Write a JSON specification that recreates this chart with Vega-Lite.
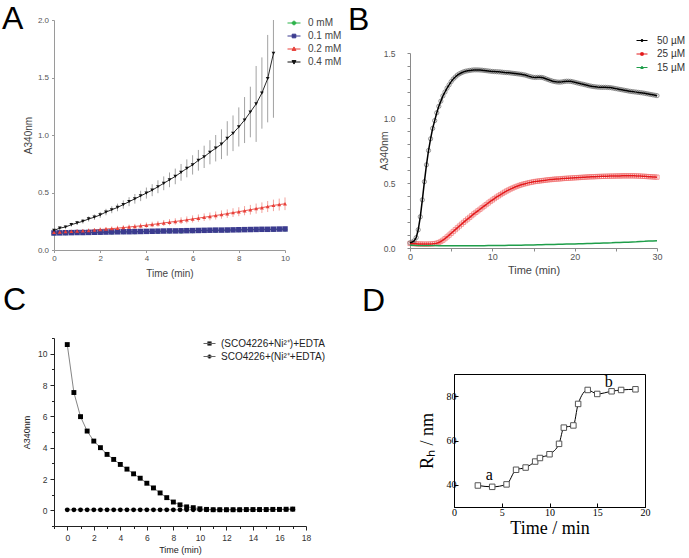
{
"$schema":"https://vega.github.io/schema/vega-lite/v6.json",
"background":"white",
"padding":{"left":2,"top":2,"right":0,"bottom":0},
"config":{
 "view":{"stroke":null},
 "font":"Liberation Sans",
 "axis":{"grid":false,"titleFontWeight":"normal","labelFont":"Liberation Sans","titleFont":"Liberation Sans","labelFlush":false,"labelOverlap":false},
 "legend":{"padding":0,"labelFont":"Liberation Sans"},
 "title":{"font":"Liberation Sans","fontWeight":"normal","anchor":"start","frame":"group","baseline":"top","color":"#000","fontSize":32}
},
"datasets":{
"a":[
{"s":"0 mM","t":0,"y":0.145,"e":0.01},{"s":"0 mM","t":0.5,"y":0.147,"e":0.01},{"s":"0 mM","t":1,"y":0.149,"e":0.01},{"s":"0 mM","t":1.5,"y":0.15,"e":0.01},{"s":"0 mM","t":2,"y":0.152,"e":0.01},{"s":"0 mM","t":2.5,"y":0.154,"e":0.01},{"s":"0 mM","t":3,"y":0.156,"e":0.01},{"s":"0 mM","t":3.5,"y":0.157,"e":0.01},{"s":"0 mM","t":4,"y":0.159,"e":0.01},{"s":"0 mM","t":4.5,"y":0.161,"e":0.01},{"s":"0 mM","t":5,"y":0.163,"e":0.01},{"s":"0 mM","t":5.5,"y":0.164,"e":0.01},{"s":"0 mM","t":6,"y":0.166,"e":0.01},{"s":"0 mM","t":6.5,"y":0.168,"e":0.01},{"s":"0 mM","t":7,"y":0.17,"e":0.01},{"s":"0 mM","t":7.5,"y":0.171,"e":0.01},{"s":"0 mM","t":8,"y":0.173,"e":0.01},{"s":"0 mM","t":8.5,"y":0.175,"e":0.01},{"s":"0 mM","t":9,"y":0.177,"e":0.01},{"s":"0 mM","t":9.5,"y":0.178,"e":0.01},{"s":"0 mM","t":10,"y":0.18,"e":0.01},
{"s":"0.1 mM","t":0,"y":0.148,"e":0.012},{"s":"0.1 mM","t":0.25,"y":0.149,"e":0.012},{"s":"0.1 mM","t":0.5,"y":0.15,"e":0.012},{"s":"0.1 mM","t":0.75,"y":0.151,"e":0.012},{"s":"0.1 mM","t":1,"y":0.152,"e":0.012},{"s":"0.1 mM","t":1.25,"y":0.152,"e":0.012},{"s":"0.1 mM","t":1.5,"y":0.153,"e":0.012},{"s":"0.1 mM","t":1.75,"y":0.154,"e":0.012},{"s":"0.1 mM","t":2,"y":0.155,"e":0.012},{"s":"0.1 mM","t":2.25,"y":0.156,"e":0.012},{"s":"0.1 mM","t":2.5,"y":0.157,"e":0.012},{"s":"0.1 mM","t":2.75,"y":0.158,"e":0.012},{"s":"0.1 mM","t":3,"y":0.159,"e":0.012},{"s":"0.1 mM","t":3.25,"y":0.159,"e":0.012},{"s":"0.1 mM","t":3.5,"y":0.16,"e":0.012},{"s":"0.1 mM","t":3.75,"y":0.161,"e":0.012},{"s":"0.1 mM","t":4,"y":0.162,"e":0.012},{"s":"0.1 mM","t":4.25,"y":0.163,"e":0.012},{"s":"0.1 mM","t":4.5,"y":0.164,"e":0.012},{"s":"0.1 mM","t":4.75,"y":0.165,"e":0.012},{"s":"0.1 mM","t":5,"y":0.166,"e":0.012},{"s":"0.1 mM","t":5.25,"y":0.166,"e":0.012},{"s":"0.1 mM","t":5.5,"y":0.167,"e":0.012},{"s":"0.1 mM","t":5.75,"y":0.168,"e":0.012},{"s":"0.1 mM","t":6,"y":0.169,"e":0.012},{"s":"0.1 mM","t":6.25,"y":0.17,"e":0.012},{"s":"0.1 mM","t":6.5,"y":0.171,"e":0.012},{"s":"0.1 mM","t":6.75,"y":0.172,"e":0.012},{"s":"0.1 mM","t":7,"y":0.173,"e":0.012},{"s":"0.1 mM","t":7.25,"y":0.173,"e":0.012},{"s":"0.1 mM","t":7.5,"y":0.174,"e":0.012},{"s":"0.1 mM","t":7.75,"y":0.175,"e":0.012},{"s":"0.1 mM","t":8,"y":0.176,"e":0.012},{"s":"0.1 mM","t":8.25,"y":0.177,"e":0.012},{"s":"0.1 mM","t":8.5,"y":0.178,"e":0.012},{"s":"0.1 mM","t":8.75,"y":0.179,"e":0.012},{"s":"0.1 mM","t":9,"y":0.18,"e":0.012},{"s":"0.1 mM","t":9.25,"y":0.18,"e":0.012},{"s":"0.1 mM","t":9.5,"y":0.181,"e":0.012},{"s":"0.1 mM","t":9.75,"y":0.182,"e":0.012},{"s":"0.1 mM","t":10,"y":0.183,"e":0.012},
{"s":"0.2 mM","t":0,"y":0.155,"e":0.015},{"s":"0.2 mM","t":0.25,"y":0.157,"e":0.015},{"s":"0.2 mM","t":0.5,"y":0.16,"e":0.015},{"s":"0.2 mM","t":0.75,"y":0.162,"e":0.015},{"s":"0.2 mM","t":1,"y":0.165,"e":0.016},{"s":"0.2 mM","t":1.25,"y":0.167,"e":0.016},{"s":"0.2 mM","t":1.5,"y":0.17,"e":0.017},{"s":"0.2 mM","t":1.75,"y":0.174,"e":0.017},{"s":"0.2 mM","t":2,"y":0.178,"e":0.018},{"s":"0.2 mM","t":2.25,"y":0.182,"e":0.018},{"s":"0.2 mM","t":2.5,"y":0.186,"e":0.019},{"s":"0.2 mM","t":2.75,"y":0.19,"e":0.02},{"s":"0.2 mM","t":3,"y":0.195,"e":0.02},{"s":"0.2 mM","t":3.25,"y":0.2,"e":0.021},{"s":"0.2 mM","t":3.5,"y":0.205,"e":0.022},{"s":"0.2 mM","t":3.75,"y":0.21,"e":0.022},{"s":"0.2 mM","t":4,"y":0.216,"e":0.023},{"s":"0.2 mM","t":4.25,"y":0.222,"e":0.024},{"s":"0.2 mM","t":4.5,"y":0.228,"e":0.025},{"s":"0.2 mM","t":4.75,"y":0.235,"e":0.026},{"s":"0.2 mM","t":5,"y":0.242,"e":0.027},{"s":"0.2 mM","t":5.25,"y":0.248,"e":0.028},{"s":"0.2 mM","t":5.5,"y":0.255,"e":0.029},{"s":"0.2 mM","t":5.75,"y":0.262,"e":0.03},{"s":"0.2 mM","t":6,"y":0.27,"e":0.031},{"s":"0.2 mM","t":6.25,"y":0.277,"e":0.032},{"s":"0.2 mM","t":6.5,"y":0.285,"e":0.033},{"s":"0.2 mM","t":6.75,"y":0.292,"e":0.034},{"s":"0.2 mM","t":7,"y":0.3,"e":0.035},{"s":"0.2 mM","t":7.25,"y":0.308,"e":0.036},{"s":"0.2 mM","t":7.5,"y":0.316,"e":0.037},{"s":"0.2 mM","t":7.75,"y":0.325,"e":0.038},{"s":"0.2 mM","t":8,"y":0.333,"e":0.039},{"s":"0.2 mM","t":8.25,"y":0.342,"e":0.04},{"s":"0.2 mM","t":8.5,"y":0.35,"e":0.042},{"s":"0.2 mM","t":8.75,"y":0.36,"e":0.044},{"s":"0.2 mM","t":9,"y":0.368,"e":0.046},{"s":"0.2 mM","t":9.25,"y":0.378,"e":0.048},{"s":"0.2 mM","t":9.5,"y":0.388,"e":0.05},{"s":"0.2 mM","t":9.75,"y":0.395,"e":0.052},{"s":"0.2 mM","t":10,"y":0.402,"e":0.055},
{"s":"0.4 mM","t":0,"y":0.17,"e":0.01},{"s":"0.4 mM","t":0.25,"y":0.19,"e":0.012},{"s":"0.4 mM","t":0.5,"y":0.2,"e":0.014},{"s":"0.4 mM","t":0.75,"y":0.22,"e":0.016},{"s":"0.4 mM","t":1,"y":0.235,"e":0.018},{"s":"0.4 mM","t":1.25,"y":0.25,"e":0.02},{"s":"0.4 mM","t":1.5,"y":0.27,"e":0.022},{"s":"0.4 mM","t":1.75,"y":0.285,"e":0.024},{"s":"0.4 mM","t":2,"y":0.305,"e":0.026},{"s":"0.4 mM","t":2.25,"y":0.33,"e":0.028},{"s":"0.4 mM","t":2.5,"y":0.35,"e":0.03},{"s":"0.4 mM","t":2.75,"y":0.37,"e":0.033},{"s":"0.4 mM","t":3,"y":0.395,"e":0.036},{"s":"0.4 mM","t":3.25,"y":0.42,"e":0.039},{"s":"0.4 mM","t":3.5,"y":0.445,"e":0.042},{"s":"0.4 mM","t":3.75,"y":0.47,"e":0.045},{"s":"0.4 mM","t":4,"y":0.495,"e":0.048},{"s":"0.4 mM","t":4.25,"y":0.52,"e":0.052},{"s":"0.4 mM","t":4.5,"y":0.55,"e":0.056},{"s":"0.4 mM","t":4.75,"y":0.58,"e":0.06},{"s":"0.4 mM","t":5,"y":0.61,"e":0.064},{"s":"0.4 mM","t":5.25,"y":0.64,"e":0.068},{"s":"0.4 mM","t":5.5,"y":0.675,"e":0.073},{"s":"0.4 mM","t":5.75,"y":0.71,"e":0.078},{"s":"0.4 mM","t":6,"y":0.74,"e":0.084},{"s":"0.4 mM","t":6.25,"y":0.78,"e":0.09},{"s":"0.4 mM","t":6.5,"y":0.81,"e":0.097},{"s":"0.4 mM","t":6.75,"y":0.85,"e":0.105},{"s":"0.4 mM","t":7,"y":0.885,"e":0.115},{"s":"0.4 mM","t":7.25,"y":0.92,"e":0.13},{"s":"0.4 mM","t":7.5,"y":0.97,"e":0.15},{"s":"0.4 mM","t":7.75,"y":1.015,"e":0.155},{"s":"0.4 mM","t":8,"y":1.07,"e":0.17},{"s":"0.4 mM","t":8.25,"y":1.13,"e":0.2},{"s":"0.4 mM","t":8.5,"y":1.2,"e":0.22},{"s":"0.4 mM","t":8.75,"y":1.27,"e":0.33},{"s":"0.4 mM","t":9,"y":1.365,"e":0.31},{"s":"0.4 mM","t":9.25,"y":1.49,"e":0.38},{"s":"0.4 mM","t":9.5,"y":1.71,"e":0.56}
],
"b":[
{"s":"15 µM","t":0,"y":0.022},{"s":"15 µM","t":0.5,"y":0.021},{"s":"15 µM","t":1,"y":0.02},{"s":"15 µM","t":1.5,"y":0.02},{"s":"15 µM","t":2,"y":0.019},{"s":"15 µM","t":2.5,"y":0.019},{"s":"15 µM","t":3,"y":0.019},{"s":"15 µM","t":3.5,"y":0.018},{"s":"15 µM","t":4,"y":0.018},{"s":"15 µM","t":4.5,"y":0.018},{"s":"15 µM","t":5,"y":0.018},{"s":"15 µM","t":5.5,"y":0.018},{"s":"15 µM","t":6,"y":0.018},{"s":"15 µM","t":6.5,"y":0.018},{"s":"15 µM","t":7,"y":0.018},{"s":"15 µM","t":7.5,"y":0.018},{"s":"15 µM","t":8,"y":0.018},{"s":"15 µM","t":8.5,"y":0.018},{"s":"15 µM","t":9,"y":0.018},{"s":"15 µM","t":9.5,"y":0.019},{"s":"15 µM","t":10,"y":0.019},{"s":"15 µM","t":10.5,"y":0.019},{"s":"15 µM","t":11,"y":0.02},{"s":"15 µM","t":11.5,"y":0.02},{"s":"15 µM","t":12,"y":0.021},{"s":"15 µM","t":12.5,"y":0.021},{"s":"15 µM","t":13,"y":0.022},{"s":"15 µM","t":13.5,"y":0.022},{"s":"15 µM","t":14,"y":0.023},{"s":"15 µM","t":14.5,"y":0.023},{"s":"15 µM","t":15,"y":0.024},{"s":"15 µM","t":15.5,"y":0.025},{"s":"15 µM","t":16,"y":0.025},{"s":"15 µM","t":16.5,"y":0.026},{"s":"15 µM","t":17,"y":0.027},{"s":"15 µM","t":17.5,"y":0.027},{"s":"15 µM","t":18,"y":0.028},{"s":"15 µM","t":18.5,"y":0.029},{"s":"15 µM","t":19,"y":0.03},{"s":"15 µM","t":19.5,"y":0.03},{"s":"15 µM","t":20,"y":0.031},{"s":"15 µM","t":20.5,"y":0.032},{"s":"15 µM","t":21,"y":0.033},{"s":"15 µM","t":21.5,"y":0.034},{"s":"15 µM","t":22,"y":0.035},{"s":"15 µM","t":22.5,"y":0.036},{"s":"15 µM","t":23,"y":0.037},{"s":"15 µM","t":23.5,"y":0.038},{"s":"15 µM","t":24,"y":0.039},{"s":"15 µM","t":24.5,"y":0.04},{"s":"15 µM","t":25,"y":0.042},{"s":"15 µM","t":25.5,"y":0.043},{"s":"15 µM","t":26,"y":0.044},{"s":"15 µM","t":26.5,"y":0.045},{"s":"15 µM","t":27,"y":0.047},{"s":"15 µM","t":27.5,"y":0.048},{"s":"15 µM","t":28,"y":0.05},{"s":"15 µM","t":28.5,"y":0.051},{"s":"15 µM","t":29,"y":0.053},{"s":"15 µM","t":29.5,"y":0.054},{"s":"15 µM","t":30,"y":0.056},
{"s":"25 µM","t":0,"y":0.035},{"s":"25 µM","t":0.25,"y":0.034},{"s":"25 µM","t":0.5,"y":0.033},{"s":"25 µM","t":0.75,"y":0.032},{"s":"25 µM","t":1,"y":0.031},{"s":"25 µM","t":1.25,"y":0.031},{"s":"25 µM","t":1.5,"y":0.03},{"s":"25 µM","t":1.75,"y":0.03},{"s":"25 µM","t":2,"y":0.03},{"s":"25 µM","t":2.25,"y":0.03},{"s":"25 µM","t":2.5,"y":0.031},{"s":"25 µM","t":2.75,"y":0.032},{"s":"25 µM","t":3,"y":0.034},{"s":"25 µM","t":3.25,"y":0.037},{"s":"25 µM","t":3.5,"y":0.042},{"s":"25 µM","t":3.75,"y":0.05},{"s":"25 µM","t":4,"y":0.06},{"s":"25 µM","t":4.25,"y":0.072},{"s":"25 µM","t":4.5,"y":0.085},{"s":"25 µM","t":4.75,"y":0.099},{"s":"25 µM","t":5,"y":0.113},{"s":"25 µM","t":5.25,"y":0.127},{"s":"25 µM","t":5.5,"y":0.141},{"s":"25 µM","t":5.75,"y":0.155},{"s":"25 µM","t":6,"y":0.169},{"s":"25 µM","t":6.25,"y":0.183},{"s":"25 µM","t":6.5,"y":0.197},{"s":"25 µM","t":6.75,"y":0.21},{"s":"25 µM","t":7,"y":0.223},{"s":"25 µM","t":7.25,"y":0.236},{"s":"25 µM","t":7.5,"y":0.249},{"s":"25 µM","t":7.75,"y":0.262},{"s":"25 µM","t":8,"y":0.274},{"s":"25 µM","t":8.25,"y":0.286},{"s":"25 µM","t":8.5,"y":0.298},{"s":"25 µM","t":8.75,"y":0.31},{"s":"25 µM","t":9,"y":0.322},{"s":"25 µM","t":9.25,"y":0.334},{"s":"25 µM","t":9.5,"y":0.346},{"s":"25 µM","t":9.75,"y":0.358},{"s":"25 µM","t":10,"y":0.369},{"s":"25 µM","t":10.25,"y":0.38},{"s":"25 µM","t":10.5,"y":0.391},{"s":"25 µM","t":10.75,"y":0.401},{"s":"25 µM","t":11,"y":0.411},{"s":"25 µM","t":11.25,"y":0.421},{"s":"25 µM","t":11.5,"y":0.43},{"s":"25 µM","t":11.75,"y":0.439},{"s":"25 µM","t":12,"y":0.447},{"s":"25 µM","t":12.25,"y":0.455},{"s":"25 µM","t":12.5,"y":0.462},{"s":"25 µM","t":12.75,"y":0.469},{"s":"25 µM","t":13,"y":0.475},{"s":"25 µM","t":13.25,"y":0.481},{"s":"25 µM","t":13.5,"y":0.486},{"s":"25 µM","t":13.75,"y":0.491},{"s":"25 µM","t":14,"y":0.495},{"s":"25 µM","t":14.25,"y":0.499},{"s":"25 µM","t":14.5,"y":0.503},{"s":"25 µM","t":14.75,"y":0.506},{"s":"25 µM","t":15,"y":0.509},{"s":"25 µM","t":15.25,"y":0.512},{"s":"25 µM","t":15.5,"y":0.514},{"s":"25 µM","t":15.75,"y":0.516},{"s":"25 µM","t":16,"y":0.518},{"s":"25 µM","t":16.25,"y":0.52},{"s":"25 µM","t":16.5,"y":0.522},{"s":"25 µM","t":16.75,"y":0.524},{"s":"25 µM","t":17,"y":0.526},{"s":"25 µM","t":17.25,"y":0.527},{"s":"25 µM","t":17.5,"y":0.529},{"s":"25 µM","t":17.75,"y":0.53},{"s":"25 µM","t":18,"y":0.531},{"s":"25 µM","t":18.25,"y":0.532},{"s":"25 µM","t":18.5,"y":0.534},{"s":"25 µM","t":18.75,"y":0.535},{"s":"25 µM","t":19,"y":0.536},{"s":"25 µM","t":19.25,"y":0.537},{"s":"25 µM","t":19.5,"y":0.538},{"s":"25 µM","t":19.75,"y":0.539},{"s":"25 µM","t":20,"y":0.54},{"s":"25 µM","t":20.25,"y":0.541},{"s":"25 µM","t":20.5,"y":0.542},{"s":"25 µM","t":20.75,"y":0.543},{"s":"25 µM","t":21,"y":0.544},{"s":"25 µM","t":21.25,"y":0.545},{"s":"25 µM","t":21.5,"y":0.546},{"s":"25 µM","t":21.75,"y":0.547},{"s":"25 µM","t":22,"y":0.548},{"s":"25 µM","t":22.25,"y":0.548},{"s":"25 µM","t":22.5,"y":0.549},{"s":"25 µM","t":22.75,"y":0.55},{"s":"25 µM","t":23,"y":0.55},{"s":"25 µM","t":23.25,"y":0.551},{"s":"25 µM","t":23.5,"y":0.551},{"s":"25 µM","t":23.75,"y":0.552},{"s":"25 µM","t":24,"y":0.552},{"s":"25 µM","t":24.25,"y":0.553},{"s":"25 µM","t":24.5,"y":0.553},{"s":"25 µM","t":24.75,"y":0.553},{"s":"25 µM","t":25,"y":0.554},{"s":"25 µM","t":25.25,"y":0.554},{"s":"25 µM","t":25.5,"y":0.554},{"s":"25 µM","t":25.75,"y":0.555},{"s":"25 µM","t":26,"y":0.555},{"s":"25 µM","t":26.25,"y":0.555},{"s":"25 µM","t":26.5,"y":0.555},{"s":"25 µM","t":26.75,"y":0.555},{"s":"25 µM","t":27,"y":0.555},{"s":"25 µM","t":27.25,"y":0.555},{"s":"25 µM","t":27.5,"y":0.554},{"s":"25 µM","t":27.75,"y":0.554},{"s":"25 µM","t":28,"y":0.553},{"s":"25 µM","t":28.25,"y":0.552},{"s":"25 µM","t":28.5,"y":0.551},{"s":"25 µM","t":28.75,"y":0.55},{"s":"25 µM","t":29,"y":0.549},{"s":"25 µM","t":29.25,"y":0.548},{"s":"25 µM","t":29.5,"y":0.547},{"s":"25 µM","t":29.75,"y":0.546},{"s":"25 µM","t":30,"y":0.545},
{"s":"50 µM","t":0,"y":0.04},{"s":"50 µM","t":0.25,"y":0.045},{"s":"50 µM","t":0.5,"y":0.055},{"s":"50 µM","t":0.75,"y":0.08},{"s":"50 µM","t":1,"y":0.14},{"s":"50 µM","t":1.25,"y":0.24},{"s":"50 µM","t":1.5,"y":0.37},{"s":"50 µM","t":1.75,"y":0.51},{"s":"50 µM","t":2,"y":0.64},{"s":"50 µM","t":2.25,"y":0.75},{"s":"50 µM","t":2.5,"y":0.84},{"s":"50 µM","t":2.75,"y":0.92},{"s":"50 µM","t":3,"y":0.98},{"s":"50 µM","t":3.25,"y":1.04},{"s":"50 µM","t":3.5,"y":1.09},{"s":"50 µM","t":3.75,"y":1.13},{"s":"50 µM","t":4,"y":1.17},{"s":"50 µM","t":4.25,"y":1.2},{"s":"50 µM","t":4.5,"y":1.23},{"s":"50 µM","t":4.75,"y":1.255},{"s":"50 µM","t":5,"y":1.28},{"s":"50 µM","t":5.25,"y":1.3},{"s":"50 µM","t":5.5,"y":1.315},{"s":"50 µM","t":5.75,"y":1.33},{"s":"50 µM","t":6,"y":1.34},{"s":"50 µM","t":6.25,"y":1.348},{"s":"50 µM","t":6.5,"y":1.355},{"s":"50 µM","t":6.75,"y":1.36},{"s":"50 µM","t":7,"y":1.363},{"s":"50 µM","t":7.25,"y":1.366},{"s":"50 µM","t":7.5,"y":1.368},{"s":"50 µM","t":7.75,"y":1.37},{"s":"50 µM","t":8,"y":1.37},{"s":"50 µM","t":8.25,"y":1.37},{"s":"50 µM","t":8.5,"y":1.369},{"s":"50 µM","t":8.75,"y":1.368},{"s":"50 µM","t":9,"y":1.366},{"s":"50 µM","t":9.25,"y":1.364},{"s":"50 µM","t":9.5,"y":1.362},{"s":"50 µM","t":9.75,"y":1.36},{"s":"50 µM","t":10,"y":1.358},{"s":"50 µM","t":10.25,"y":1.357},{"s":"50 µM","t":10.5,"y":1.356},{"s":"50 µM","t":10.75,"y":1.355},{"s":"50 µM","t":11,"y":1.354},{"s":"50 µM","t":11.25,"y":1.352},{"s":"50 µM","t":11.5,"y":1.35},{"s":"50 µM","t":11.75,"y":1.349},{"s":"50 µM","t":12,"y":1.348},{"s":"50 µM","t":12.25,"y":1.346},{"s":"50 µM","t":12.5,"y":1.344},{"s":"50 µM","t":12.75,"y":1.342},{"s":"50 µM","t":13,"y":1.34},{"s":"50 µM","t":13.25,"y":1.338},{"s":"50 µM","t":13.5,"y":1.336},{"s":"50 µM","t":13.75,"y":1.333},{"s":"50 µM","t":14,"y":1.33},{"s":"50 µM","t":14.25,"y":1.325},{"s":"50 µM","t":14.5,"y":1.32},{"s":"50 µM","t":14.75,"y":1.316},{"s":"50 µM","t":15,"y":1.313},{"s":"50 µM","t":15.25,"y":1.312},{"s":"50 µM","t":15.5,"y":1.313},{"s":"50 µM","t":15.75,"y":1.313},{"s":"50 µM","t":16,"y":1.312},{"s":"50 µM","t":16.25,"y":1.308},{"s":"50 µM","t":16.5,"y":1.302},{"s":"50 µM","t":16.75,"y":1.296},{"s":"50 µM","t":17,"y":1.29},{"s":"50 µM","t":17.25,"y":1.285},{"s":"50 µM","t":17.5,"y":1.281},{"s":"50 µM","t":17.75,"y":1.278},{"s":"50 µM","t":18,"y":1.276},{"s":"50 µM","t":18.25,"y":1.276},{"s":"50 µM","t":18.5,"y":1.278},{"s":"50 µM","t":18.75,"y":1.281},{"s":"50 µM","t":19,"y":1.283},{"s":"50 µM","t":19.25,"y":1.283},{"s":"50 µM","t":19.5,"y":1.282},{"s":"50 µM","t":19.75,"y":1.279},{"s":"50 µM","t":20,"y":1.275},{"s":"50 µM","t":20.25,"y":1.271},{"s":"50 µM","t":20.5,"y":1.267},{"s":"50 µM","t":20.75,"y":1.263},{"s":"50 µM","t":21,"y":1.26},{"s":"50 µM","t":21.25,"y":1.256},{"s":"50 µM","t":21.5,"y":1.252},{"s":"50 µM","t":21.75,"y":1.248},{"s":"50 µM","t":22,"y":1.245},{"s":"50 µM","t":22.25,"y":1.242},{"s":"50 µM","t":22.5,"y":1.24},{"s":"50 µM","t":22.75,"y":1.238},{"s":"50 µM","t":23,"y":1.237},{"s":"50 µM","t":23.25,"y":1.236},{"s":"50 µM","t":23.5,"y":1.236},{"s":"50 µM","t":23.75,"y":1.236},{"s":"50 µM","t":24,"y":1.235},{"s":"50 µM","t":24.25,"y":1.234},{"s":"50 µM","t":24.5,"y":1.232},{"s":"50 µM","t":24.75,"y":1.229},{"s":"50 µM","t":25,"y":1.226},{"s":"50 µM","t":25.25,"y":1.223},{"s":"50 µM","t":25.5,"y":1.22},{"s":"50 µM","t":25.75,"y":1.217},{"s":"50 µM","t":26,"y":1.214},{"s":"50 µM","t":26.25,"y":1.211},{"s":"50 µM","t":26.5,"y":1.208},{"s":"50 µM","t":26.75,"y":1.205},{"s":"50 µM","t":27,"y":1.203},{"s":"50 µM","t":27.25,"y":1.201},{"s":"50 µM","t":27.5,"y":1.199},{"s":"50 µM","t":27.75,"y":1.197},{"s":"50 µM","t":28,"y":1.195},{"s":"50 µM","t":28.25,"y":1.193},{"s":"50 µM","t":28.5,"y":1.19},{"s":"50 µM","t":28.75,"y":1.187},{"s":"50 µM","t":29,"y":1.184},{"s":"50 µM","t":29.25,"y":1.181},{"s":"50 µM","t":29.5,"y":1.178},{"s":"50 µM","t":29.75,"y":1.175},{"s":"50 µM","t":30,"y":1.172}
],
"c":[
{"s":"(SCO4226+Ni²⁺)+EDTA","t":0,"y":10.58},{"s":"(SCO4226+Ni²⁺)+EDTA","t":0.5,"y":7.52},{"s":"(SCO4226+Ni²⁺)+EDTA","t":1,"y":5.98},{"s":"(SCO4226+Ni²⁺)+EDTA","t":1.5,"y":5.06},{"s":"(SCO4226+Ni²⁺)+EDTA","t":2,"y":4.42},{"s":"(SCO4226+Ni²⁺)+EDTA","t":2.5,"y":4.0},{"s":"(SCO4226+Ni²⁺)+EDTA","t":3,"y":3.57},{"s":"(SCO4226+Ni²⁺)+EDTA","t":3.5,"y":3.25},{"s":"(SCO4226+Ni²⁺)+EDTA","t":4,"y":2.93},{"s":"(SCO4226+Ni²⁺)+EDTA","t":4.5,"y":2.63},{"s":"(SCO4226+Ni²⁺)+EDTA","t":5,"y":2.33},{"s":"(SCO4226+Ni²⁺)+EDTA","t":5.5,"y":2.05},{"s":"(SCO4226+Ni²⁺)+EDTA","t":6,"y":1.73},{"s":"(SCO4226+Ni²⁺)+EDTA","t":6.5,"y":1.43},{"s":"(SCO4226+Ni²⁺)+EDTA","t":7,"y":1.11},{"s":"(SCO4226+Ni²⁺)+EDTA","t":7.5,"y":0.81},{"s":"(SCO4226+Ni²⁺)+EDTA","t":8,"y":0.53},{"s":"(SCO4226+Ni²⁺)+EDTA","t":8.5,"y":0.35},{"s":"(SCO4226+Ni²⁺)+EDTA","t":9,"y":0.22},{"s":"(SCO4226+Ni²⁺)+EDTA","t":9.5,"y":0.17},{"s":"(SCO4226+Ni²⁺)+EDTA","t":10,"y":0.1},{"s":"(SCO4226+Ni²⁺)+EDTA","t":10.5,"y":0.06},{"s":"(SCO4226+Ni²⁺)+EDTA","t":11,"y":0.04},{"s":"(SCO4226+Ni²⁺)+EDTA","t":11.5,"y":0.04},{"s":"(SCO4226+Ni²⁺)+EDTA","t":12,"y":0.04},{"s":"(SCO4226+Ni²⁺)+EDTA","t":12.5,"y":0.04},{"s":"(SCO4226+Ni²⁺)+EDTA","t":13,"y":0.04},{"s":"(SCO4226+Ni²⁺)+EDTA","t":13.5,"y":0.05},{"s":"(SCO4226+Ni²⁺)+EDTA","t":14,"y":0.05},{"s":"(SCO4226+Ni²⁺)+EDTA","t":14.5,"y":0.05},{"s":"(SCO4226+Ni²⁺)+EDTA","t":15,"y":0.05},{"s":"(SCO4226+Ni²⁺)+EDTA","t":15.5,"y":0.06},{"s":"(SCO4226+Ni²⁺)+EDTA","t":16,"y":0.06},{"s":"(SCO4226+Ni²⁺)+EDTA","t":16.5,"y":0.07},{"s":"(SCO4226+Ni²⁺)+EDTA","t":17,"y":0.08},
{"s":"SCO4226+(Ni²⁺+EDTA)","t":0,"y":0.03},{"s":"SCO4226+(Ni²⁺+EDTA)","t":0.5,"y":0.03},{"s":"SCO4226+(Ni²⁺+EDTA)","t":1,"y":0.03},{"s":"SCO4226+(Ni²⁺+EDTA)","t":1.5,"y":0.03},{"s":"SCO4226+(Ni²⁺+EDTA)","t":2,"y":0.03},{"s":"SCO4226+(Ni²⁺+EDTA)","t":2.5,"y":0.03},{"s":"SCO4226+(Ni²⁺+EDTA)","t":3,"y":0.03},{"s":"SCO4226+(Ni²⁺+EDTA)","t":3.5,"y":0.03},{"s":"SCO4226+(Ni²⁺+EDTA)","t":4,"y":0.03},{"s":"SCO4226+(Ni²⁺+EDTA)","t":4.5,"y":0.03},{"s":"SCO4226+(Ni²⁺+EDTA)","t":5,"y":0.03},{"s":"SCO4226+(Ni²⁺+EDTA)","t":5.5,"y":0.03},{"s":"SCO4226+(Ni²⁺+EDTA)","t":6,"y":0.03},{"s":"SCO4226+(Ni²⁺+EDTA)","t":6.5,"y":0.03},{"s":"SCO4226+(Ni²⁺+EDTA)","t":7,"y":0.03},{"s":"SCO4226+(Ni²⁺+EDTA)","t":7.5,"y":0.03},{"s":"SCO4226+(Ni²⁺+EDTA)","t":8,"y":0.03},{"s":"SCO4226+(Ni²⁺+EDTA)","t":8.5,"y":0.03},{"s":"SCO4226+(Ni²⁺+EDTA)","t":9,"y":0.03},{"s":"SCO4226+(Ni²⁺+EDTA)","t":9.5,"y":0.03},{"s":"SCO4226+(Ni²⁺+EDTA)","t":10,"y":0.03},{"s":"SCO4226+(Ni²⁺+EDTA)","t":10.5,"y":0.03},{"s":"SCO4226+(Ni²⁺+EDTA)","t":11,"y":0.03},{"s":"SCO4226+(Ni²⁺+EDTA)","t":11.5,"y":0.03},{"s":"SCO4226+(Ni²⁺+EDTA)","t":12,"y":0.03},{"s":"SCO4226+(Ni²⁺+EDTA)","t":12.5,"y":0.03},{"s":"SCO4226+(Ni²⁺+EDTA)","t":13,"y":0.03},{"s":"SCO4226+(Ni²⁺+EDTA)","t":13.5,"y":0.03},{"s":"SCO4226+(Ni²⁺+EDTA)","t":14,"y":0.03},{"s":"SCO4226+(Ni²⁺+EDTA)","t":14.5,"y":0.04},{"s":"SCO4226+(Ni²⁺+EDTA)","t":15,"y":0.04},{"s":"SCO4226+(Ni²⁺+EDTA)","t":15.5,"y":0.05},{"s":"SCO4226+(Ni²⁺+EDTA)","t":16,"y":0.05},{"s":"SCO4226+(Ni²⁺+EDTA)","t":16.5,"y":0.06},{"s":"SCO4226+(Ni²⁺+EDTA)","t":17,"y":0.07}
],
"d":[
{"t":2.5,"y":39.7},{"t":4,"y":39.1},{"t":5.5,"y":40.2},{"t":6.5,"y":46.8},{"t":7.5,"y":47.8},{"t":8.5,"y":50.5},{"t":9,"y":52.1},{"t":10,"y":53.8},{"t":11,"y":58.5},{"t":11.5,"y":65.8},{"t":12.5,"y":66.8},{"t":13,"y":76.5},{"t":14,"y":82.8},{"t":15,"y":81.0},{"t":16.5,"y":82.2},{"t":17.5,"y":82.8},{"t":19,"y":83.1}
],
"dl":[{"t":3.7,"y":44.5,"l":"a"},{"t":16.2,"y":86.3,"l":"b"}],
"none":[]
},
"spacing":4,
"resolve":{"scale":{"color":"independent","shape":"independent","size":"independent"},"legend":{"color":"independent","shape":"independent","size":"independent"}},
"vconcat":[
{"columns":2,"align":"none","spacing":{"row":0,"column":6},
"resolve":{"scale":{"color":"independent","shape":"independent","size":"independent"},"legend":{"color":"independent","shape":"independent","size":"independent"}},
"concat":[
{"width":1,"height":1,"data":{"name":"none"},"mark":"point"},
{"width":1,"height":1,"data":{"name":"none"},"mark":"point"},
{
 "width":231,"height":230,
 "title":{"text":"A","dx":-52,"offset":-20},
 "data":{"name":"a"},
 "encoding":{
  "x":{"field":"t","type":"quantitative","scale":{"domain":[0,10],"nice":false,"zero":false},
   "axis":{"title":"Time (min)","values":[0,2,4,6,8,10],"tickSize":2.5,"labelFontSize":8,"titleFontSize":10,"domainColor":"#9a9a9a","tickColor":"#9a9a9a","labelColor":"#555","titleColor":"#444","labelPadding":2,"titlePadding":6}},
  "y":{"field":"y","type":"quantitative","scale":{"domain":[0,2],"nice":false,"clamp":true},
   "axis":{"title":"A340nm","values":[0,0.5,1,1.5,2],"format":".1f","tickSize":2.5,"labelFontSize":8,"titleFontSize":10,"domainColor":"#9a9a9a","tickColor":"#9a9a9a","labelColor":"#555","titleColor":"#444","labelPadding":3,"titlePadding":4}}
 },
 "layer":[
  {"transform":[{"filter":{"field":"s","equal":"0 mM"}}],"mark":{"type":"errorbar","ticks":false,"color":"#8fd19e","thickness":0.8},"encoding":{"yError":{"field":"e"}}},
  {"transform":[{"filter":{"field":"s","equal":"0.1 mM"}}],"mark":{"type":"errorbar","ticks":false,"color":"#9a9ad0","thickness":0.8},"encoding":{"yError":{"field":"e"}}},
  {"transform":[{"filter":{"field":"s","equal":"0.2 mM"}}],"mark":{"type":"errorbar","ticks":false,"color":"#f08a84","thickness":0.8},"encoding":{"yError":{"field":"e"}}},
  {"transform":[{"filter":{"field":"s","equal":"0.4 mM"}}],"mark":{"type":"errorbar","ticks":false,"color":"#8a8a8a","thickness":0.8},"encoding":{"yError":{"field":"e"}}},
  {"mark":{"type":"line","strokeWidth":0.9},
   "encoding":{"color":{"field":"s","type":"nominal","scale":{"domain":["0 mM","0.1 mM","0.2 mM","0.4 mM"],"range":["#2db34a","#3b3b8f","#e8403a","#111111"]},
    "legend":{"title":null,"orient":"none","legendX":233,"legendY":-4,"symbolSize":169,"labelFontSize":10,"labelColor":"#444","labelOffset":7,"rowPadding":1,
     "encode":{"symbols":{"update":{
      "shape":{"signal":"['M-1,0H1M-0.28,0A0.28,0.28,0,1,1,0.28,0A0.28,0.28,0,1,1,-0.28,0Z','M-1,0H1M-0.28,-0.28H0.28V0.28H-0.28Z','M-1,0H1M0,-0.32L0.3,0.22H-0.3Z','M-1,0H1M0,0.32L0.3,-0.22H-0.3Z'][datum.index]"},
      "fill":{"signal":"['#2db34a','#3b3b8f','#e8403a','#111111'][datum.index]"},
      "stroke":{"signal":"['#2db34a','#3b3b8f','#e8403a','#111111'][datum.index]"},
      "strokeWidth":{"value":1},"opacity":{"value":1}}}}}}}},
  {"transform":[{"filter":{"field":"s","equal":"0 mM"}}],"mark":{"type":"point","shape":"circle","filled":true,"color":"#2db34a","size":20,"opacity":1}},
  {"transform":[{"filter":{"field":"s","equal":"0.1 mM"}}],"mark":{"type":"point","shape":"square","filled":true,"color":"#3b3b8f","size":30,"opacity":1}},
  {"transform":[{"filter":{"field":"s","equal":"0.2 mM"}}],"mark":{"type":"point","shape":"triangle-up","filled":true,"color":"#e8403a","size":16,"opacity":1}},
  {"transform":[{"filter":{"field":"s","equal":"0.4 mM"}}],"mark":{"type":"point","shape":"triangle-down","filled":true,"color":"#111111","size":14,"opacity":1}}
 ]
},
{
 "width":247,"height":195,
 "title":{"text":"B","dx":-62,"offset":-2},
 "data":{"name":"b"},
 "encoding":{
  "x":{"field":"t","type":"quantitative","scale":{"domain":[0,30],"nice":false,"zero":false},
   "axis":{"title":"Time (min)","values":[0,5,10,15,20,25,30],"labelExpr":"datum.value % 10 == 0 ? datum.label : ''","tickSize":3,"labelFontSize":9,"titleFontSize":11,"domainColor":"#8a8a8a","tickColor":"#8a8a8a","labelColor":"#555","titleColor":"#444","labelPadding":1.5,"titlePadding":3}},
  "y":{"field":"y","type":"quantitative","scale":{"domain":[0,1.5],"nice":false},
   "axis":{"title":"A340nm","values":[0,0.1,0.2,0.3,0.4,0.5,0.6,0.7,0.8,0.9,1,1.1,1.2,1.3,1.4,1.5],"labelExpr":"abs(datum.value*2-round(datum.value*2))<0.001 ? format(datum.value,'.1f') : ''","tickSize":3,"labelFontSize":8.5,"titleFontSize":10.5,"domainColor":"#8a8a8a","tickColor":"#8a8a8a","labelColor":"#555","titleColor":"#444","labelPadding":12,"titlePadding":-6}}
 },
 "layer":[
  {"transform":[{"filter":{"field":"s","equal":"25 µM"}}],
   "mark":{"type":"point","shape":"square","filled":false,"color":"#f07070","size":18,"strokeWidth":0.7,"opacity":1}},
  {"transform":[{"filter":{"field":"s","equal":"50 µM"}}],
   "mark":{"type":"point","shape":"circle","filled":false,"color":"#6a6a6a","size":18,"strokeWidth":0.7,"opacity":1}},
  {"mark":{"type":"line","strokeWidth":1.5},
   "encoding":{"color":{"field":"s","type":"nominal","scale":{"domain":["50 µM","25 µM","15 µM"],"range":["#000000","#e31a1c","#1f9e4a"]},
    "legend":{"title":null,"orient":"none","legendX":226,"legendY":-18.5,"symbolSize":121,"labelFontSize":10,"labelColor":"#333","labelOffset":9,"rowPadding":2.5,
     "encode":{"symbols":{"update":{
      "shape":{"signal":"['M-1,0H1M-0.2,0A0.2,0.2,0,1,1,0.2,0A0.2,0.2,0,1,1,-0.2,0Z','M-1,0H1M-0.22,-0.22H0.22V0.22H-0.22Z','M-1,0H1M0,-0.25L0.22,0.18H-0.22Z'][datum.index]"},
      "fill":{"signal":"['#000000','#e31a1c','#1f9e4a'][datum.index]"},
      "stroke":{"signal":"['#000000','#e31a1c','#1f9e4a'][datum.index]"},
      "strokeWidth":{"value":1},"opacity":{"value":1}}}}}}}}
 ]
}
]},
{"columns":2,"align":"none","spacing":{"row":0,"column":36},
"resolve":{"scale":{"color":"independent","shape":"independent","size":"independent"},"legend":{"color":"independent","shape":"independent","size":"independent"}},
"concat":[
{"width":1,"height":1,"data":{"name":"none"},"mark":"point"},
{"width":1,"height":1,"data":{"name":"none"},"mark":"point"},
{
 "width":252,"height":188,
 "title":{"text":"C","dx":-51,"offset":17},
 "data":{"name":"c"},
 "encoding":{
  "x":{"field":"t","type":"quantitative","scale":{"domain":[-1,18],"nice":false,"zero":false},
   "axis":{"title":"Time (min)","values":[-1,0,1,2,3,4,5,6,7,8,9,10,11,12,13,14,15,16,17,18],"labelExpr":"datum.value >= 0 && datum.value % 2 == 0 ? datum.label : ''","tickSize":{"condition":{"test":"datum.value % 2 == 0","value":4},"value":2.5},"labelFontSize":8.5,"titleFontSize":9,"domainColor":"#222","tickColor":"#222","labelColor":"#333","titleColor":"#222","labelPadding":3,"titlePadding":4}},
  "y":{"field":"y","type":"quantitative","scale":{"domain":[-1,11],"nice":false,"zero":false},
   "axis":{"title":"A340nm","values":[-1,0,1,2,3,4,5,6,7,8,9,10,11],"labelExpr":"datum.value >= 0 && datum.value % 2 == 0 ? datum.label : ''","tickSize":{"condition":{"test":"datum.value % 2 == 0","value":4},"value":2.5},"labelFontSize":8.5,"titleFontSize":9,"domainColor":"#222","tickColor":"#222","labelColor":"#333","titleColor":"#222","labelPadding":3,"titlePadding":6}}
 },
 "layer":[
  {"mark":{"type":"line","strokeWidth":0.8},
   "encoding":{"color":{"field":"s","type":"nominal","scale":{"domain":["(SCO4226+Ni²⁺)+EDTA","SCO4226+(Ni²⁺+EDTA)"],"range":["#666666","#666666"]},
    "legend":{"title":null,"orient":"none","legendX":149,"legendY":-1,"symbolSize":144,"labelFontSize":10,"labelColor":"#222","labelOffset":5,"rowPadding":1,
     "encode":{"symbols":{"update":{
      "shape":{"signal":"['M-1,0H1M-0.3,-0.3H0.3V0.3H-0.3Z','M-1,0H1M-0.3,0A0.3,0.3,0,1,1,0.3,0A0.3,0.3,0,1,1,-0.3,0Z'][datum.index]"},
      "fill":{"value":"#000000"},"stroke":{"value":"#333333"},"strokeWidth":{"value":1},"opacity":{"value":1}}}}}}}},
  {"transform":[{"filter":{"field":"s","equal":"(SCO4226+Ni²⁺)+EDTA"}}],"mark":{"type":"point","shape":"square","filled":true,"color":"#000000","size":24,"opacity":1}},
  {"transform":[{"filter":{"field":"s","equal":"SCO4226+(Ni²⁺+EDTA)"}}],"mark":{"type":"point","shape":"circle","filled":true,"color":"#000000","size":24,"opacity":1}}
 ]
},
{
 "width":191,"height":133,
 "title":{"text":"D","dx":-92,"offset":56},
 "view":{"stroke":"#000000","strokeWidth":1},
 "encoding":{
  "x":{"field":"t","type":"quantitative","scale":{"domain":[0,20],"nice":false,"zero":false},
   "axis":{"title":"Time / min","values":[0,5,10,15,20],"tickSize":-4,"labelPadding":4,"labelFont":"Liberation Serif","titleFont":"Liberation Serif","labelFontSize":10,"titleFontSize":18,"domainColor":"#000","tickColor":"#000","labelColor":"#000","titleColor":"#000","titlePadding":2}},
  "y":{"field":"y","type":"quantitative","scale":{"domain":[30,90],"nice":false,"zero":false},
   "axis":{"title":"Rₕ / nm","values":[40,60,80],"tickSize":-4,"labelPadding":2,"labelFont":"Liberation Serif","titleFont":"Liberation Serif","labelFontSize":10,"titleFontSize":18,"domainColor":"#000","tickColor":"#000","labelColor":"#000","titleColor":"#000","titlePadding":10}}
 },
 "layer":[
  {"data":{"name":"d"},"mark":{"type":"line","interpolate":"monotone","color":"#000","strokeWidth":1}},
  {"data":{"name":"d"},"mark":{"type":"point","shape":"square","filled":true,"fill":"#ffffff","stroke":"#555555","strokeWidth":1,"size":30,"opacity":1}},
  {"data":{"name":"dl"},"mark":{"type":"text","font":"Liberation Serif","fontSize":16,"color":"#000","baseline":"middle","align":"center"},"encoding":{"text":{"field":"l"}}}
 ]
}
]}
]
}
